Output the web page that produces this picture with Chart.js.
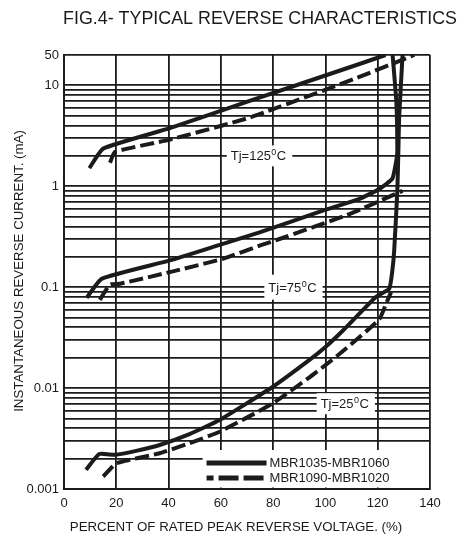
<!DOCTYPE html>
<html>
<head>
<meta charset="utf-8">
<script src="https://cdn.jsdelivr.net/npm/chart.js@4.4.1/dist/chart.umd.min.js"></script>
<style>
  html, body { margin: 0; padding: 0; background: #fff; }
  #wrap { width: 471px; height: 543px; }
</style>
</head>
<body>
<div id="wrap"><canvas id="chart" width="471" height="543"></canvas></div>
<script>
// Fig.4 reverse characteristics: % of rated peak reverse voltage vs reverse current (mA)
const xTicks = [0, 20, 40, 60, 80, 100, 120, 140];
const yTickValues = [0.001, 0.01, 0.1, 1, 10, 50];
const yTickLabels = ['0.001', '0.01', '0.1', '1', '10', '50'];

const seriesNames = ['MBR1035-MBR1060', 'MBR1090-MBR1020'];
const tempNames = ['Tj=125', 'Tj=75', 'Tj=25'];

// Tj = 125 C
const pct125Solid = [9.7, 15.0, 40.5, 71.0, 113.0, 123.0];
const ma125Solid = [1.51, 2.36, 3.76, 7.0, 31, 50];
const pct125Dash = [17.6, 19.5, 40.5, 71.0, 112.2, 134.0];
const ma125Dash = [1.71, 2.19, 2.9, 4.79, 15, 50];

// Tj = 75 C (solid one bends up into breakdown)
const pct75Solid = [8.7, 14.4, 40.5, 60.8, 74.8, 99.0, 113.0, 120.6, 125.6, 127.1, 127.5, 127.1, 125.7];
const ma75Solid = [0.0785, 0.121, 0.184, 0.269, 0.349, 0.573, 0.75, 0.94, 1.19, 1.79, 2.24, 7.0, 50];
const pct75Dash = [13.7, 17.6, 21.4, 40.5, 60.8, 74.8, 82.4, 109.2, 129.5];
const ma75Dash = [0.075, 0.106, 0.108, 0.141, 0.191, 0.258, 0.30, 0.53, 0.90];

// Tj = 25 C
const pct25Solid = [8.4, 13.5, 19.5, 28.0, 36.6, 48.0, 59.5, 79.9, 93.9, 100.0, 106.6, 119.3, 124.4, 125.6, 126.3, 127.5, 127.9, 128.2, 129.5];
const ma25Solid = [0.00155, 0.00222, 0.00218, 0.0024, 0.00273, 0.0035, 0.00482, 0.0103, 0.019, 0.0255, 0.037, 0.080, 0.0964, 0.146, 0.23, 0.90, 2.24, 4.79, 50];
const pct25Dash = [15.0, 20.1, 36.6, 48.0, 59.5, 79.9, 93.9, 100.0, 106.5, 120.6, 123.2, 125.1];
const ma25Dash = [0.00133, 0.0018, 0.00226, 0.00284, 0.00369, 0.00705, 0.0128, 0.0169, 0.023, 0.048, 0.0686, 0.0893];

const INK = '#1b1b1b';
const FONT = '"Liberation Sans", Arial, sans-serif';
const DASH = [14, 5];

// the printed axis is log up to 10 mA, the 10..50 step is squeezed
const BREAK = 10;
const SQUEEZE = 0.43;

class SqueezedLogScale extends Chart.LogarithmicScale {
  _t(v) {
    const l = Math.log10(v);
    const b = Math.log10(BREAK);
    return l <= b ? l : b + (l - b) * SQUEEZE;
  }
  getPixelForValue(value) {
    if (value === undefined || value === null || value <= 0) value = this.min;
    const lo = this._t(this.min), hi = this._t(this.max);
    return this.getPixelForDecimal((this._t(value) - lo) / (hi - lo));
  }
  getValueForPixel(pixel) {
    const lo = this._t(this.min), hi = this._t(this.max);
    const t = lo + this.getDecimalForPixel(pixel) * (hi - lo);
    const b = Math.log10(BREAK);
    return Math.pow(10, t <= b ? t : b + (t - b) / SQUEEZE);
  }
}
SqueezedLogScale.id = 'squeezedLog';
SqueezedLogScale.defaults = {};
Chart.register(SqueezedLogScale);

// grid rows: 1..9 in every decade, then 10 and 50
const yGrid = [];
for (let e = -3; e <= 0; e++) {
  for (let k = 1; k <= 9; k++) yGrid.push(+(k * Math.pow(10, e)).toPrecision(3));
}
yGrid.push(10, 50);

const toPoints = (xs, ys) => xs.map((x, i) => ({ x: x, y: ys[i] }));

const curve = (xs, ys, dashed) => ({
  data: toPoints(xs, ys),
  borderColor: INK,
  borderWidth: 4,
  borderDash: dashed ? DASH : [],
  tension: 0.15,
  pointRadius: 0,
  fill: false
});

function fitFont(ctx, text, width, weight) {
  ctx.font = (weight || '') + ' 20px ' + FONT;
  return 20 * width / ctx.measureText(text).width;
}

const annotate = {
  id: 'annotate',
  afterDraw(chart) {
    const ctx = chart.ctx;
    const { x, y } = chart.scales;
    const area = chart.chartArea;
    ctx.save();
    ctx.fillStyle = INK;

    // title
    ctx.textAlign = 'center';
    ctx.textBaseline = 'middle';
    const title = 'FIG.4- TYPICAL REVERSE CHARACTERISTICS';
    ctx.font = fitFont(ctx, title, 394) + 'px ' + FONT;
    ctx.fillText(title, 260, 19);

    // axis titles
    const xTitle = 'PERCENT OF RATED PEAK REVERSE VOLTAGE. (%)';
    ctx.font = fitFont(ctx, xTitle, 333) + 'px ' + FONT;
    ctx.fillText(xTitle, 236, 527);
    const yTitle = 'INSTANTANEOUS REVERSE CURRENT. (mA)';
    ctx.font = fitFont(ctx, yTitle, 282) + 'px ' + FONT;
    ctx.save();
    ctx.translate(19, 271);
    ctx.rotate(-Math.PI / 2);
    ctx.fillText(yTitle, 0, 0);
    ctx.restore();

    // temperature tags sitting on the grid
    const tags = [[74.4, 2], [87.4, 0.1], [107.4, 0.007]];
    const boxH = [21, 25, 21];
    tempNames.forEach((name, i) => {
      const cx = x.getPixelForValue(tags[i][0]);
      const cy = y.getPixelForValue(tags[i][1]);
      ctx.font = '13px ' + FONT;
      const w1 = ctx.measureText(name).width;
      const wc = ctx.measureText('C').width;
      ctx.font = '9px ' + FONT;
      const w0 = ctx.measureText('0').width + 1;
      const w = w1 + w0 + wc;
      ctx.fillStyle = '#fff';
      ctx.fillRect(cx - w / 2 - 4, cy - boxH[i] / 2, w + 10, boxH[i]);
      ctx.fillStyle = INK;
      ctx.textAlign = 'left';
      ctx.textBaseline = 'middle';
      const left = cx - w / 2;
      ctx.font = '13px ' + FONT;
      ctx.fillText(name, left, cy + 1);
      ctx.font = '9px ' + FONT;
      ctx.fillText('0', left + w1 + 0.5, cy - 3);
      ctx.font = '13px ' + FONT;
      ctx.fillText('C', left + w1 + w0, cy + 1);
    });

    // legend box in the lower right corner of the plot
    const bx = x.getPixelForValue(53);
    const by = area.bottom - 39;
    ctx.fillStyle = '#fff';
    ctx.fillRect(bx, by, area.right - bx - 1, area.bottom - by - 1.5);
    ctx.strokeStyle = INK;
    ctx.lineWidth = 5;
    ctx.lineCap = 'butt';
    const rows = [by + 13, by + 28];
    ctx.beginPath();
    ctx.setLineDash([]);
    ctx.moveTo(bx + 4, rows[0]);
    ctx.lineTo(bx + 64, rows[0]);
    ctx.stroke();
    ctx.beginPath();
    ctx.setLineDash([20, 5]);
    ctx.lineDashOffset = 13;
    ctx.moveTo(bx + 4, rows[1]);
    ctx.lineTo(bx + 64, rows[1]);
    ctx.stroke();
    ctx.setLineDash([]);
    ctx.fillStyle = INK;
    ctx.font = '13px ' + FONT;
    ctx.textAlign = 'left';
    ctx.textBaseline = 'middle';
    seriesNames.forEach((s, i) => ctx.fillText(s, bx + 67, rows[i] + 0.5));
    ctx.restore();
  }
};

const gridOpts = { color: INK, lineWidth: 1.8, drawTicks: false };
const tickFont = { family: FONT, size: 13 };

new Chart(document.getElementById('chart'), {
  type: 'line',
  data: {
    datasets: [
      curve(pct125Solid, ma125Solid, false),
      curve(pct125Dash, ma125Dash, true),
      curve(pct75Solid, ma75Solid, false),
      curve(pct75Dash, ma75Dash, true),
      curve(pct25Solid, ma25Solid, false),
      curve(pct25Dash, ma25Dash, true)
    ]
  },
  options: {
    responsive: false,
    animation: false,
    events: [],
    layout: { padding: { top: 55, right: 41, bottom: 0, left: 0 } },
    plugins: { legend: { display: false }, tooltip: { enabled: false } },
    scales: {
      x: {
        type: 'linear',
        min: xTicks[0],
        max: xTicks[xTicks.length - 1],
        afterFit: s => { s.height = 54; },
        afterBuildTicks: s => { s.ticks = xTicks.map(v => ({ value: v })); },
        ticks: { padding: 7, color: INK, font: tickFont },
        grid: gridOpts,
        border: { color: INK, width: 2 }
      },
      y: {
        type: 'squeezedLog',
        min: yTickValues[0],
        max: yTickValues[yTickValues.length - 1],
        afterFit: s => { s.width = 64; },
        afterBuildTicks: s => { s.ticks = yGrid.map(v => ({ value: v })); },
        ticks: {
          autoSkip: false,
          padding: 5,
          color: INK,
          font: tickFont,
          callback: v => {
            const i = yTickValues.indexOf(v);
            return i < 0 ? '' : yTickLabels[i];
          }
        },
        grid: gridOpts,
        border: { color: INK, width: 2 }
      }
    }
  },
  plugins: [annotate]
});
</script>
</body>
</html>
